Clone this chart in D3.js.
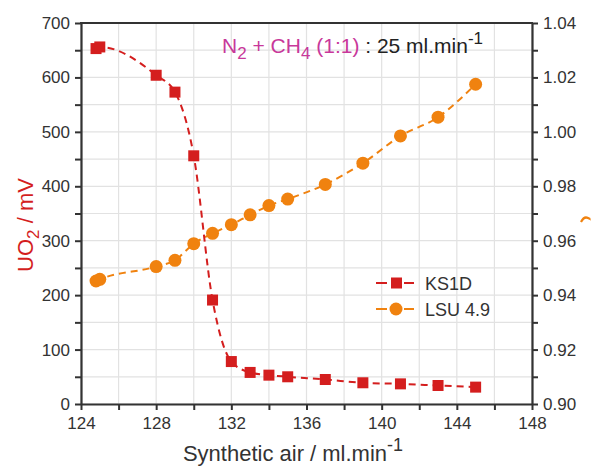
<!DOCTYPE html>
<html><head><meta charset="utf-8">
<script src="https://cdn.jsdelivr.net/npm/d3@7"></script>
<style>
body{margin:0;background:#fff;}
svg{display:block;font-family:"Liberation Sans",Arial,sans-serif;}
</style></head>
<body><svg id="c" width="591" height="468"></svg>
<script>
// Data
const ks1dX = [124.8, 125, 128, 129, 130, 131, 132, 133, 134, 135, 137, 139, 141, 143, 145];
const ks1dY = [653, 656, 604, 573, 456, 191, 78, 58, 53, 50, 45, 39, 37, 34, 31];
const lsuX = [124.8, 125, 128, 129, 130, 131, 132, 133, 134, 135, 137, 139, 141, 143, 145];
const lsuY = [0.9452, 0.9458, 0.9505, 0.9528, 0.9589, 0.9627, 0.9659, 0.9695, 0.9729, 0.9753, 0.9807, 0.9885, 0.9985, 1.0054, 1.0175];
const xTicks = [124, 128, 132, 136, 140, 144, 148];
const yLeftTicks = [0, 100, 200, 300, 400, 500, 600, 700];
const yRightTicks = [0.90, 0.92, 0.94, 0.96, 0.98, 1.00, 1.02, 1.04];
const seriesNames = ["KS1D", "LSU 4.9"];

const RED = "#d41e1e", ORANGE = "#f0820f", AX = "#333", TXT = "#333";
const svg = d3.select("#c");
const L = 81, R = 532, T = 23, B = 404;
const x = d3.scaleLinear().domain([124, 148]).range([L, R]);
const yL = d3.scaleLinear().domain([0, 700]).range([B, T]);
const yR = d3.scaleLinear().domain([0.90, 1.04]).range([B, T]);

// grid
const g = svg.append("g");
g.selectAll("line.v").data(d3.range(124, 148.01, 2)).join("line")
  .attr("x1", d => x(d)).attr("x2", d => x(d)).attr("y1", T).attr("y2", B)
  .attr("stroke", "#e2e2e2").attr("stroke-width", 1.2);
g.selectAll("line.h").data(d3.range(0, 700.01, 50)).join("line")
  .attr("y1", d => yL(d)).attr("y2", d => yL(d)).attr("x1", L).attr("x2", R)
  .attr("stroke", "#e2e2e2").attr("stroke-width", 1.2);

// axes
function styleAxis(sel) {
  sel.select(".domain").attr("stroke", AX).attr("stroke-width", 2.2);
  sel.selectAll(".tick line").attr("stroke", AX).attr("stroke-width", 2);
  sel.selectAll(".tick text").attr("fill", TXT).attr("font-size", 17)
     .attr("font-family", "'Liberation Sans',Arial,sans-serif");
}
const bx = svg.append("g").attr("transform", `translate(0,${B})`)
  .call(d3.axisBottom(x).tickValues(d3.range(124, 148.01, 2)).tickSize(6).tickFormat(d => xTicks.includes(d) ? d : "").tickPadding(5).tickSizeOuter(0));
styleAxis(bx);
bx.selectAll(".tick text").attr("dy", "0.85em");
const ly = svg.append("g").attr("transform", `translate(${L},0)`)
  .call(d3.axisLeft(yL).tickValues(d3.range(0, 700.01, 50)).tickSize(6).tickFormat(d => yLeftTicks.includes(d) ? d : "").tickPadding(5).tickSizeOuter(0));
styleAxis(ly);
const ry = svg.append("g").attr("transform", `translate(${R},0)`)
  .call(d3.axisRight(yR).tickValues(d3.range(0, 14.01, 1).map(i => +(0.90 + i * 0.01).toFixed(2))).tickSize(6)
    .tickFormat(d => yRightTicks.some(v => Math.abs(v - d) < 1e-9) ? d3.format(".2f")(d) : "").tickPadding(5).tickSizeOuter(0));
styleAxis(ry);
svg.append("line").attr("x1", L - 1).attr("x2", R + 1).attr("y1", T).attr("y2", T).attr("stroke", AX).attr("stroke-width", 2.2);

// lines
const lineK = d3.line().x(d => x(d[0])).y(d => yL(d[1])).curve(d3.curveMonotoneX);
const lineL = d3.line().x(d => x(d[0])).y(d => yR(d[1])).curve(d3.curveMonotoneX);
const kData = ks1dX.map((v, i) => [v, ks1dY[i]]);
const lData = lsuX.map((v, i) => [v, lsuY[i]]);
svg.append("path").datum(lData).attr("d", lineL).attr("fill", "none").attr("stroke", ORANGE).attr("stroke-width", 2).attr("stroke-dasharray", "7,5");
svg.append("path").datum(kData).attr("d", lineK).attr("fill", "none").attr("stroke", RED).attr("stroke-width", 2).attr("stroke-dasharray", "7,5");

svg.selectAll("circle.l").data(lData).join("circle").attr("cx", d => x(d[0])).attr("cy", d => yR(d[1])).attr("r", 6.5).attr("fill", ORANGE);
svg.selectAll("rect.k").data(kData).join("rect").attr("x", d => x(d[0]) - 5.5).attr("y", d => yL(d[1]) - 5.5).attr("width", 11).attr("height", 11).attr("fill", RED);

// legend
const leg = svg.append("g");
const ly1 = 283, ly2 = 309;
[[ly1, RED, "rect"], [ly2, ORANGE, "circle"]].forEach(([yy, c, m], i) => {
  leg.append("line").attr("x1", 376).attr("x2", 387).attr("y1", yy).attr("y2", yy).attr("stroke", c).attr("stroke-width", 2);
  leg.append("line").attr("x1", 404).attr("x2", 414).attr("y1", yy).attr("y2", yy).attr("stroke", c).attr("stroke-width", 2);
  if (m === "rect") leg.append("rect").attr("x", 391).attr("y", yy - 5.5).attr("width", 11).attr("height", 11).attr("fill", c);
  else leg.append("circle").attr("cx", 396).attr("cy", yy).attr("r", 6.5).attr("fill", c);
  leg.append("text").attr("x", 425).attr("y", yy + 6.5).attr("font-size", 18).attr("fill", TXT).text(seriesNames[i]);
});

// annotation
const ann = svg.append("text").attr("x", 222).attr("y", 53).attr("font-size", 21);
ann.append("tspan").attr("fill", "#c8389a").text("N");
ann.append("tspan").attr("fill", "#c8389a").attr("font-size", 17).attr("dy", 6).text("2");
ann.append("tspan").attr("fill", "#c8389a").attr("dy", -6).text(" + CH");
ann.append("tspan").attr("fill", "#c8389a").attr("font-size", 17).attr("dy", 6).text("4");
ann.append("tspan").attr("fill", "#c8389a").attr("dy", -6).text(" (1:1)");
ann.append("tspan").attr("fill", "#222").text(" : 25 ml.min");
ann.append("tspan").attr("fill", "#222").attr("font-size", 17).attr("dy", -9).text("-1");

// axis titles
const xt = svg.append("text").attr("x", 293).attr("y", 461).attr("text-anchor", "middle").attr("font-size", 22).attr("fill", "#333");
xt.append("tspan").text("Synthetic air / ml.min");
xt.append("tspan").attr("font-size", 18).attr("dy", -10).text("-1");

const yt = svg.append("text").attr("transform", "translate(33,225) rotate(-90)").attr("text-anchor", "middle").attr("font-size", 22).attr("fill", RED);
yt.append("tspan").text("UO");
yt.append("tspan").attr("font-size", 17).attr("dy", 6).text("2");
yt.append("tspan").attr("dy", -6).text(" / mV");

// clipped fragment of the right-axis title at the edge (drawn as a stroke)
svg.append("path").attr("d", "M581,222 Q584,216 588,218 T591,219").attr("fill", "none").attr("stroke", ORANGE).attr("stroke-width", 2.2);
</script></body></html>
